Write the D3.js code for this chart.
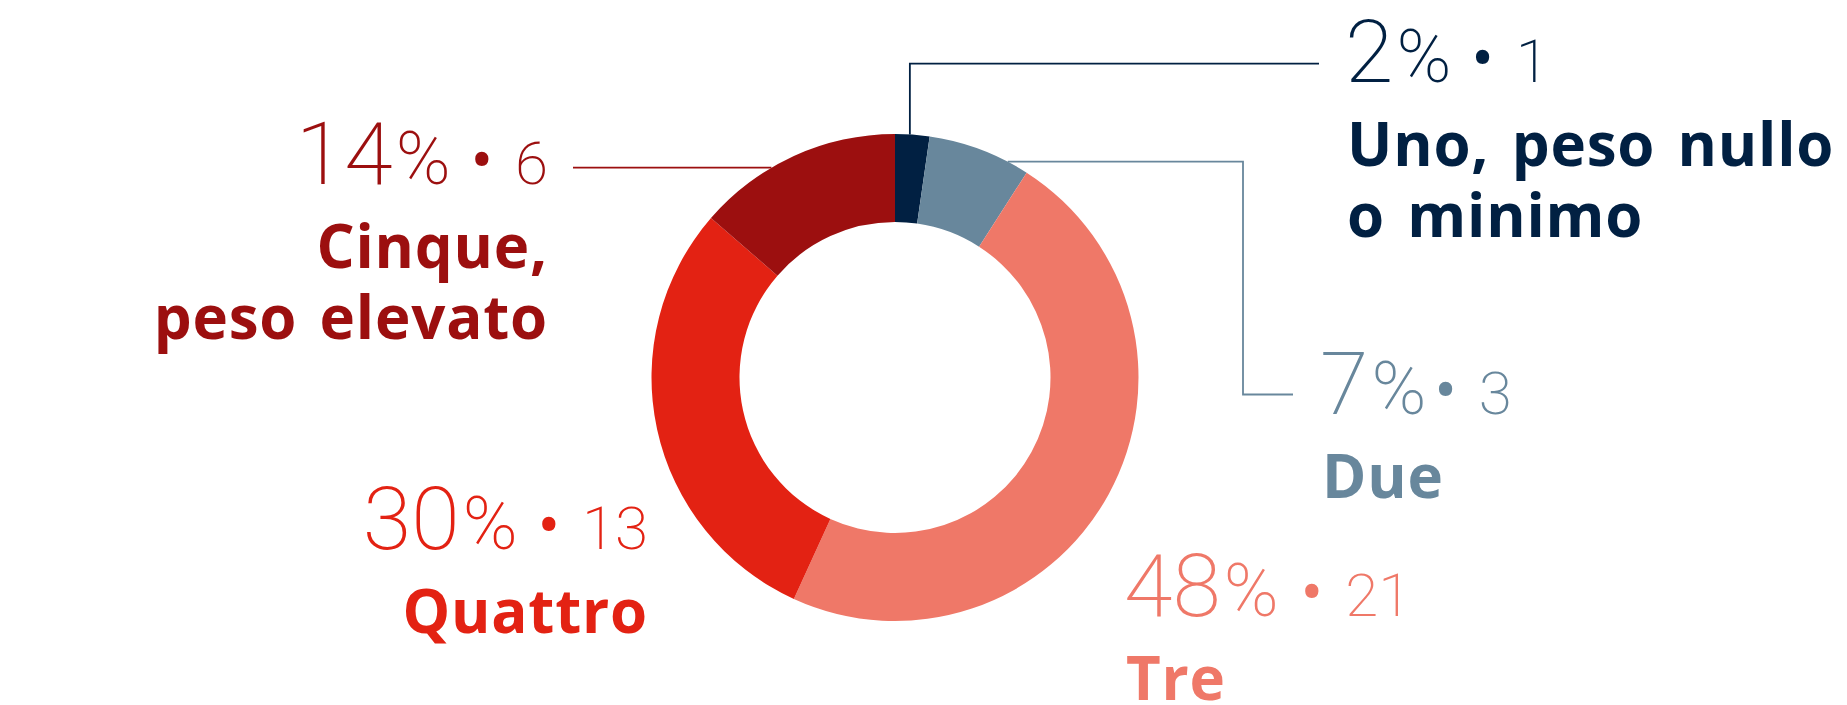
<!DOCTYPE html>
<html>
<head>
<meta charset="utf-8">
<script src="https://cdn.jsdelivr.net/npm/d3@7"></script>
<style>
  body { margin: 0; background: #fff; }
  svg { display: block; }
</style>
</head>
<body>
<script>
// data
const categories = ['Uno, peso nullo o minimo', 'Due', 'Tre', 'Quattro', 'Cinque, peso elevato']
const counts = [1, 3, 21, 13, 6]
const percents = [2, 7, 48, 30, 14]
const labelLines = [['Uno, peso nullo', 'o minimo'], ['Due'], ['Tre'], ['Quattro'], ['Cinque,', 'peso elevato']]
const colors = ['#012042', '#68879c', '#ef7868', '#e32213', '#9c0f0f']

const config = {
  width: 1847,
  height: 705,
  cx: 895,
  cy: 377.5,
  outer: 243.5,
  inner: 155.5,
  bigSize: 88,
  pctSize: 74,
  smallSize: 60,
  labelSize: 60,
  lineGap: 71
}

// where each label block sits, and how its leader line runs (angle in degrees)
const layout = [
  { x: 1345, y: 82, anchor: 'start', gap: 20, leader: { angle: 3.5, path: p => [[p[0], 63.6], [1319, 63.6]] } },
  { x: 1320, y: 414, anchor: 'start', gap: 8, leader: { angle: 27.6, path: p => [[1243, p[1]], [1243, 394.5], [1293, 394.5]] } },
  { x: 1124, y: 616, anchor: 'start', gap: 22 },
  { x: 648, y: 549, anchor: 'end', gap: 20 },
  { x: 548, y: 184, anchor: 'end', gap: 20, leader: { angle: 329.5, path: p => [[573, p[1]]] } }
]

const svg = d3.select('body')
  .append('svg')
  .attr('width', config.width)
  .attr('height', config.height)

const pie = d3.pie().sort(null).value(d => d)
const arc = d3.arc().innerRadius(config.inner).outerRadius(config.outer)
const arcs = pie(counts)

const g = svg.append('g')
  .attr('transform', `translate(${config.cx},${config.cy})`)

// leader lines
const line = d3.line()
layout.forEach((l, i) => {
  if (!l.leader) return
  const a = l.leader.angle * Math.PI / 180
  const start = [config.cx + config.outer * Math.sin(a), config.cy - config.outer * Math.cos(a)]
  const pts = [start].concat(l.leader.path(start))
  svg.append('path')
    .attr('d', line(pts))
    .attr('fill', 'none')
    .attr('stroke', colors[i])
    .attr('stroke-width', 1.8)
})

g.selectAll('.slice')
  .data(arcs).enter().append('path')
  .attr('class', 'slice')
  .attr('d', arc)
  .attr('fill', (d, i) => colors[i])

// labels
layout.forEach((l, i) => {
  const num = svg.append('text')
    .attr('x', l.x)
    .attr('y', l.y)
    .attr('text-anchor', l.anchor)
    .attr('fill', colors[i])
    .style('font-family', 'Roboto, sans-serif')
    .style('font-weight', 200)
  num.append('tspan')
    .attr('font-size', config.bigSize)
    .text(percents[i])
  num.append('tspan')
    .attr('font-size', config.pctSize)
    .attr('dx', 3)
    .text('%')
  num.append('tspan')
    .attr('font-size', 66)
    .attr('dx', l.gap)
    .style('font-weight', 400)
    .text('\u2022')
  num.append('tspan')
    .attr('font-size', config.smallSize)
    .attr('dx', 22)
    .text(counts[i])

  labelLines[i].forEach((t, j) => {
    svg.append('text')
      .attr('x', l.x + (l.anchor === 'start' ? 2 : 0))
      .attr('y', l.y + 84 + j * config.lineGap)
      .attr('text-anchor', l.anchor)
      .attr('fill', colors[i])
      .attr('font-size', config.labelSize)
      .style('font-family', '"Open Sans", sans-serif')
      .style('font-weight', 700)
      .style('letter-spacing', '0.8px')
      .style('word-spacing', '6px')
      .text(t)
  })
})
</script>
</body>
</html>
